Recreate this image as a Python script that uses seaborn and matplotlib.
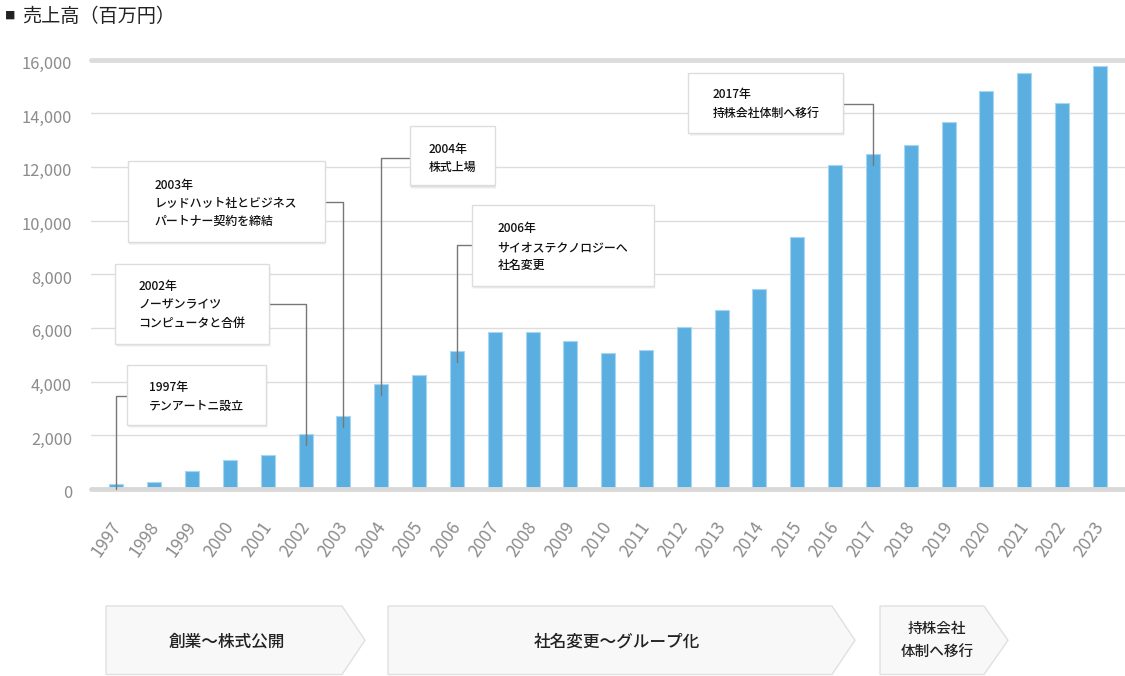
import numpy as np
import pandas as pd
import seaborn as sns
import matplotlib
matplotlib.use("Agg")
import matplotlib.pyplot as plt
from matplotlib.patches import Rectangle, Polygon
from matplotlib.lines import Line2D
import matplotlib.transforms as mtransforms

# ---------------- data ----------------
years = ["1997", "1998", "1999", "2000", "2001", "2002", "2003", "2004", "2005",
         "2006", "2007", "2008", "2009", "2010", "2011", "2012", "2013", "2014",
         "2015", "2016", "2017", "2018", "2019", "2020", "2021", "2022", "2023"]
sales = [175, 250, 660, 1080, 1267, 2049, 2720, 3912, 4247,
         5142, 5838, 5838, 5503, 5056, 5168, 6047, 6658, 7440,
         9400, 12060, 12470, 12805, 13662, 14817, 15499, 14370, 15749]
yticks = [0, 2000, 4000, 6000, 8000, 10000, 12000, 14000, 16000]

title = "売上高（百万円）"

event_years = ["1997", "2002", "2003", "2004", "2006", "2017"]
event_texts = [
    ["1997年", "テンアートニ設立"],
    ["2002年", "ノーザンライツ", "コンピュータと合併"],
    ["2003年", "レッドハット社とビジネス", "パートナー契約を締結"],
    ["2004年", "株式上場"],
    ["2006年", "サイオステクノロジーへ", "社名変更"],
    ["2017年", "持株会社体制へ移行"],
]
phase_labels = ["創業〜株式公開", "社名変更〜グループ化", "持株会社\n体制へ移行"]

# ---------------- layout (pixels, top-left origin) ----------------
W, H = 1125, 676
AX_L, AX_R, AX_T, AX_B = 90.7, 1125, 59.5, 489
# box: (x0, y0, x1, y1), text left x, line ys, connector side, connector y
box_layout = [
    ((127, 365, 266, 425), 149, [387.5, 406.5], "left", 395.5),
    ((115, 263.5, 269, 344), 138.5, [286.5, 305, 323.5], "right", 304),
    ((127.5, 161.5, 324.5, 241.5), 154.5, [185, 203.5, 221.5], "right", 201.5),
    ((409.5, 126.5, 494.5, 185.5), 428.5, [149, 167.5], "left", 157.5),
    ((471.5, 205, 653.5, 286), 497.5, [228.5, 247.5, 265.5], "left", 245.5),
    ((688, 73, 843, 133), 712.5, [94.5, 113.5], "right", 103.5),
]
phase_layout = [
    (106, 342, 365, 227, 12, [642]),
    (388, 832, 855, 617, 12, [642]),
    (880, 984, 1008, 937, 10.5, [629, 652]),
]
PH_TOP, PH_BOT = 606, 674.5

sns.set_theme(style="white")
plt.rcParams["font.family"] = ["Noto Sans CJK JP", "DejaVu Sans"]

fig = plt.figure(figsize=(W / 100, H / 100), dpi=100)
ax = fig.add_axes([AX_L / W, 1 - AX_B / H, (AX_R - AX_L) / W, (AX_B - AX_T) / H])

df = pd.DataFrame({"year": years, "sales": sales})
sns.barplot(data=df, x="year", y="sales", color="#5aafe0", saturation=1,
            width=0.37, edgecolor="#a8d5f0", linewidth=0.8, ax=ax, zorder=2)

ax.set_xlim(-0.682, 26.666)
ax.set_ylim(0, 16000)
ax.set_yticks(yticks)
ax.set_yticklabels([f"{v:,}" for v in yticks])
ax.yaxis.grid(True, color="#dddddd", lw=1)
ax.xaxis.grid(False)
ax.set_axisbelow(True)
for s in ax.spines.values():
    s.set_visible(False)
ax.set_xlabel("")
ax.set_ylabel("")
ax.tick_params(axis="y", length=0, pad=13.5, labelsize=11.8, labelcolor="#8c8c8c")
ax.tick_params(axis="x", length=0, pad=21, labelsize=12.5, labelcolor="#8c8c8c")
xoff = mtransforms.ScaledTranslation(8 / 100, 0, fig.dpi_scale_trans)
for lab in ax.get_xticklabels():
    lab.set_rotation(55)
    lab.set_ha("right")
    lab.set_va("top")
    lab.set_transform(lab.get_transform() + xoff)
yoff = mtransforms.ScaledTranslation(0, -3 / 100, fig.dpi_scale_trans)
for lab in ax.get_yticklabels():
    lab.set_transform(lab.get_transform() + yoff)

ax.axhline(16000, color="#dcdcdc", lw=3.5, clip_on=False, zorder=1)
ax.axhline(0, color="#d9d9d9", lw=3.5, clip_on=False, zorder=5)


def fx(x):
    return x / W


def fy(y):
    return 1 - y / H


# title
fig.text(fx(4.5), fy(16), "■", fontsize=7.5, color="#222222", va="center", ha="left")
fig.text(fx(22.5), fy(17), title, fontsize=13.8, color="#222222", va="center", ha="left")

# annotation boxes and connectors
for ev_year, lines, (bx, tx, lys, side, cy) in zip(event_years, event_texts, box_layout):
    i = years.index(ev_year)
    val = sales[i]
    end_val = max(val - 400, 0)
    dx, dy = ax.transData.transform((i, end_val))
    bar_x = dx
    end_y = H - dy
    x0, y0, x1, y1 = bx
    edge_x = x0 if side == "left" else x1
    fig.add_artist(Line2D([fx(edge_x), fx(bar_x), fx(bar_x)], [fy(cy), fy(cy), fy(end_y)],
                          transform=fig.transFigure, color="#777777", lw=1, zorder=3))
    for k, a in [(3, 0.035), (2, 0.045), (1, 0.06)]:
        fig.add_artist(Rectangle((fx(x0 + k * 0.5), fy(y1 + k)), fx(x1 - x0), (y1 - y0) / H,
                                 transform=fig.transFigure, facecolor="black", alpha=a,
                                 edgecolor="none", zorder=3.5))
    fig.add_artist(Rectangle((fx(x0), fy(y1)), fx(x1 - x0), (y1 - y0) / H,
                             transform=fig.transFigure, facecolor="white",
                             edgecolor="#dddddd", lw=1, zorder=4))
    for line, ly in zip(lines, lys):
        fig.text(fx(tx), fy(ly), line, fontsize=8.6, color="#111111",
                 ha="left", va="center", zorder=5, fontweight="medium")

# phase chevrons
mid = (PH_TOP + PH_BOT) / 2
for label, (x0, xr, xt, tcx, fs, tys) in zip(phase_labels, phase_layout):
    pts = [(x0, PH_TOP), (xr, PH_TOP), (xt, mid), (xr, PH_BOT), (x0, PH_BOT)]
    fig.add_artist(Polygon([(fx(a), fy(b)) for a, b in pts], closed=True,
                           transform=fig.transFigure, facecolor="#f8f8f8",
                           edgecolor="#e0e0e0", lw=1, zorder=2))
    for part, ty in zip(label.split("\n"), tys):
        fig.text(fx(tcx), fy(ty), part, fontsize=fs, color="#222222",
                 ha="center", va="center", zorder=3, fontweight="medium")

fig.savefig("out.png", dpi=100)
